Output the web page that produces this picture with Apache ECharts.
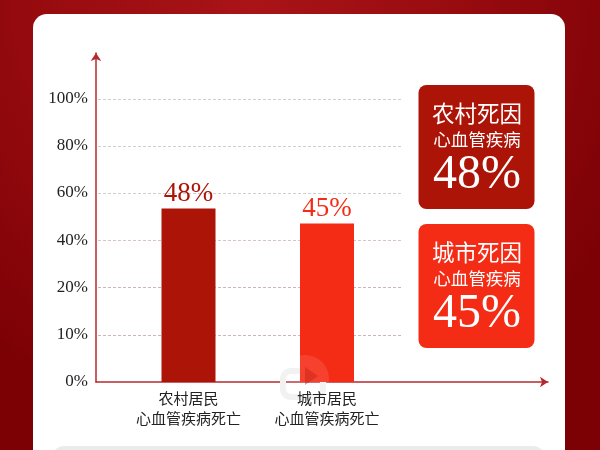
<!DOCTYPE html>
<html><head><meta charset="utf-8">
<style>html,body{margin:0;padding:0;background:#fff}#c{width:600px;height:450px}</style>
<script src="https://cdn.jsdelivr.net/npm/echarts@6/dist/echarts.min.js"></script>
</head><body><div id="c"></div>
<script>
// Data
const categories = ['农村居民\n心血管疾病死亡', '城市居民\n心血管疾病死亡'];
const valueLabels = ['48%', '45%'];
// The printed ticks are not linear (0,10,20,40...): evenly spaced ticks; bar tops as read on that drawn axis (tick slots)
const tickLabels = ['0%', '10%', '20%', '40%', '60%', '80%', '100%'];
const barHeights = [3.68, 3.36];
const barColors = ['#AD1408', '#F42C16'];
const panelTitles = ['农村死因', '城市死因'];
const panelSub = '心血管疾病';

const serif = '"Liberation Serif","Noto Sans CJK SC",serif';
const chart = echarts.init(document.getElementById('c'), null, {renderer: 'canvas'});

function panel(y, color, title, big) {
  const x = 418.5, w = 116, h = 124;
  return [
    {type: 'rect', shape: {x, y, width: w, height: h, r: 8}, style: {fill: color}, z: 5},
    {type: 'text', z: 6, style: {x: x + w / 2 + 0.5, y: y + 31, text: title, fill: '#fff', font: '22.5px ' + serif, align: 'center', verticalAlign: 'middle'}},
    {type: 'text', z: 6, style: {x: x + w / 2 + 0.5, y: y + 56, text: panelSub, fill: '#fff', font: '17.5px ' + serif, align: 'center', verticalAlign: 'middle'}},
    {type: 'text', z: 6, style: {x: x + w / 2 + 0.5, y: y + 90, text: big, fill: '#fff', font: '48px ' + serif, align: 'center', verticalAlign: 'middle'}}
  ];
}

chart.setOption({
  animation: false,
  backgroundColor: new echarts.graphic.RadialGradient(0.42, 0, 0.95, [
    {offset: 0, color: '#A91417'}, {offset: 0.5, color: '#970B0F'}, {offset: 1, color: '#7C0105'}
  ]),
  graphic: {elements: [
    {type: 'rect', z: -1, silent: true, shape: {x: 33, y: 14, width: 532, height: 460, r: 14}, style: {fill: '#fff'}},
    {type: 'rect', z: -1, silent: true, shape: {x: 52, y: 446, width: 493, height: 40, r: 12}, style: {fill: '#EBEBEB'}},
    {type: 'rect', z: 1, silent: true, shape: {x: 283, y: 371, width: 40, height: 26, r: 8}, style: {fill: 'none', stroke: '#F1F1F1', lineWidth: 6}},
    {type: 'circle', z: 4, silent: true, shape: {cx: 305, cy: 379, r: 24}, style: {fill: 'rgba(255,255,255,0.1)'}},
    {type: 'polygon', z: 4, silent: true, shape: {points: [[305, 367], [318, 376], [305, 385]]}, style: {fill: 'rgba(195,35,25,0.45)'}},
    ...panel(85, barColors[0], panelTitles[0], valueLabels[0]),
    ...panel(224, barColors[1], panelTitles[1], valueLabels[1])
  ]},
  grid: [
    {left: 96, width: 452, top: 53, height: 329},
    {left: 98, width: 304, top: 52, height: 330},
    {left: 119.25, width: 277, top: 52, height: 330}
  ],
  xAxis: [
    {gridIndex: 0, type: 'value', min: 0, max: 1, axisLabel: {show: false}, axisTick: {show: false}, splitLine: {show: false},
      axisLine: {symbol: ['none', 'arrow'], symbolSize: [8, 8], symbolOffset: [0, 0], lineStyle: {color: '#B52A2E', width: 1.5}}},
    {gridIndex: 1, type: 'value', show: false},
    {gridIndex: 2, type: 'category', z: 7, data: categories, axisLine: {show: false}, axisTick: {show: false},
      axisLabel: {color: '#222', fontFamily: serif, fontSize: 15, lineHeight: 20, margin: 8, interval: 0}}
  ],
  yAxis: [
    {gridIndex: 0, type: 'value', min: 0, max: 6.963, interval: 1, splitLine: {show: false}, axisTick: {show: false},
      axisLine: {symbol: ['none', 'arrow'], symbolSize: [8, 8], symbolOffset: [0, 0], lineStyle: {color: '#B52A2E', width: 1.5}},
      axisLabel: {color: '#222', fontFamily: serif, fontSize: 17, margin: 8, padding: [4, 0, 0, 0], showMaxLabel: false, formatter: v => tickLabels[v] || ''}},
    {gridIndex: 1, type: 'value', min: 0, max: 7, interval: 1, axisLabel: {show: false}, axisTick: {show: false}, axisLine: {show: false},
      splitLine: {show: true, showMinLine: false, showMaxLine: false,
        lineStyle: {type: [3, 2], width: 1, color: ['#D0B4B6', '#D0B4B6', '#D4C4C4', '#CFCFCF', '#CFCFCF', '#CFCFCF']}}},
    {gridIndex: 2, type: 'value', min: 0, max: 7, show: false}
  ],
  series: [{
    type: 'bar', xAxisIndex: 2, yAxisIndex: 2, barWidth: 54, silent: true,
    data: barHeights.map((v, i) => ({value: v, itemStyle: {color: barColors[i]}, label: {color: barColors[i]}})),
    label: {show: true, position: 'top', distance: 1, fontFamily: serif, fontSize: 27,
      formatter: p => valueLabels[p.dataIndex]}
  }]
});
</script></body></html>
